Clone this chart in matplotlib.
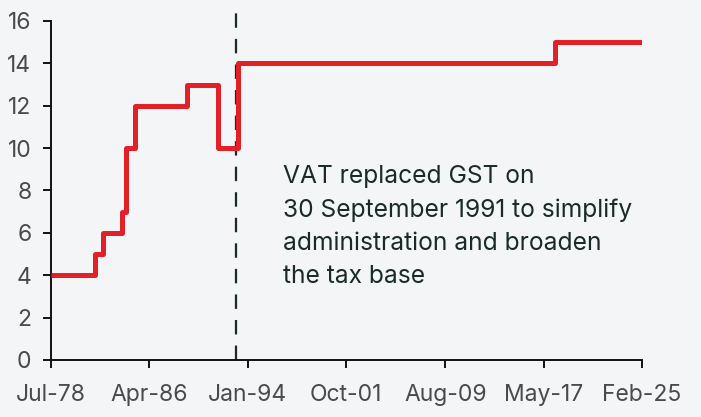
import pandas as pd
import matplotlib.pyplot as plt

# GST / VAT rate changes (%), step series
change_dates = ["1978-07-01", "1982-01-01", "1982-08-01", "1984-02-01", "1984-06-01",
                "1985-02-01", "1989-04-01", "1991-09-01", "1993-04-01", "2018-04-01",
                "2025-02-01"]
rates = [4, 5, 6, 7, 10, 12, 13, 10, 14, 15, 15]

tick_dates = ["1978-07-01", "1986-04-01", "1994-01-01", "2001-10-01",
              "2009-08-01", "2017-05-01", "2025-02-01"]
tick_labels = ["Jul-78", "Apr-86", "Jan-94", "Oct-01", "Aug-09", "May-17", "Feb-25"]

marker_date = "1993-02-01"
note = ("VAT replaced GST on\n30 September 1991 to simplify\n"
        "administration and broaden\nthe tax base")

bg = "#F3F5F7"
plt.rcParams["font.family"] = ["Inter", "DejaVu Sans"]

fig = plt.figure(figsize=(7.01, 4.17), dpi=100, facecolor=bg)
ax = fig.add_axes([51 / 701, 1 - 360 / 417, (642 - 51) / 701, (360 - 21) / 417])
ax.set_facecolor(bg)

x = pd.to_datetime(change_dates)
ax.plot(x, rates, drawstyle="steps-post", color="#E32028", lw=3.6,
        solid_capstyle="butt", zorder=3)

ax.axvline(pd.Timestamp(marker_date), ymin=0, ymax=(360 - 13) / (360 - 21),
           color="#1B2A28", lw=1.6, ls=(0, (6.5, 5)), clip_on=False, zorder=2)

ax.text(0.393, 0.574, note, transform=ax.transAxes, fontsize=17.7,
        color="#1B2A28", va="top", ha="left", linespacing=1.55)

ax.set_xlim(x[0], x[-1])
ax.set_ylim(0, 16)
ax.set_yticks(range(0, 17, 2))
ax.set_xticks(pd.to_datetime(tick_dates))
ax.set_xticklabels(tick_labels)

for s in ["top", "right"]:
    ax.spines[s].set_visible(False)
for s in ["left", "bottom"]:
    ax.spines[s].set_color("#111111")
    ax.spines[s].set_linewidth(1.4)
ax.tick_params(axis="both", length=6, width=1.4, color="#111111",
               labelsize=16.5, labelcolor="#4A4A4A")
ax.tick_params(axis="y", pad=8)
ax.tick_params(axis="x", pad=11)

fig.savefig("out.png", dpi=100, facecolor=bg)
